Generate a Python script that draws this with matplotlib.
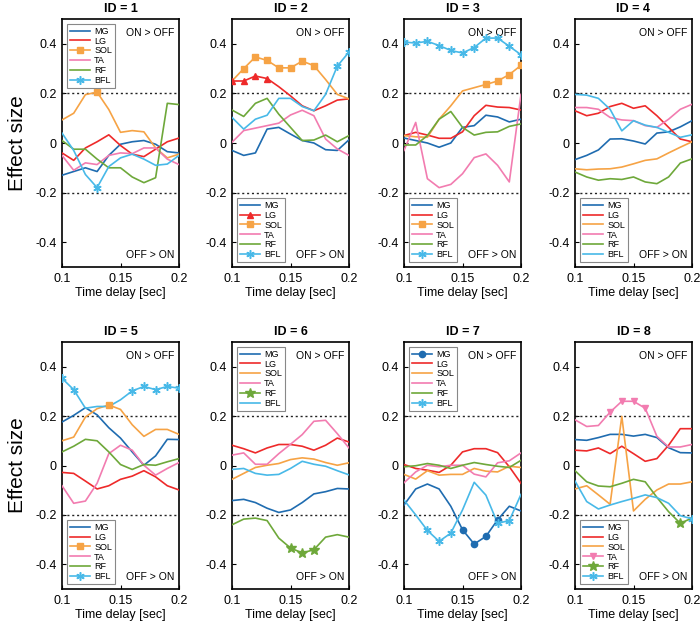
import matplotlib
matplotlib.use("Agg")
import matplotlib.pyplot as plt
from matplotlib.lines import Line2D
import numpy as np

plt.rcParams['font.family'] = ['Liberation Sans', 'DejaVu Sans']

time_delay = [0.10, 0.11, 0.12, 0.13, 0.14, 0.15, 0.16, 0.17, 0.18, 0.19, 0.20]
muscles = ["MG", "LG", "SOL", "TA", "RF", "BFL"]

id1 = {
    "MG":  [-0.13, -0.115, -0.10, -0.115, -0.05, -0.005, 0.005, 0.01, -0.005, -0.035, -0.04],
    "LG":  [-0.04, -0.07, -0.02, 0.005, 0.033, -0.01, -0.045, -0.055, -0.025, 0.005, 0.02],
    "SOL": [0.093, 0.12, 0.195, 0.205, 0.135, 0.043, 0.05, 0.045, -0.02, -0.06, -0.045],
    "TA":  [-0.05, -0.11, -0.08, -0.087, -0.05, -0.04, -0.043, -0.02, -0.02, -0.065, -0.087],
    "RF":  [0.01, -0.025, -0.025, -0.065, -0.10, -0.10, -0.137, -0.16, -0.14, 0.16, 0.155],
    "BFL": [0.04, -0.03, -0.127, -0.18, -0.095, -0.06, -0.045, -0.065, -0.09, -0.085, -0.05],
}
id2 = {
    "MG":  [-0.03, -0.05, -0.04, 0.056, 0.063, 0.036, 0.01, 0.0, -0.027, -0.03, 0.013],
    "LG":  [0.25, 0.25, 0.27, 0.26, 0.227, 0.19, 0.15, 0.13, 0.15, 0.173, 0.178],
    "SOL": [0.25, 0.30, 0.347, 0.333, 0.303, 0.303, 0.33, 0.312, 0.256, 0.196, 0.178],
    "TA":  [0.003, 0.05, 0.06, 0.07, 0.08, 0.113, 0.132, 0.11, 0.016, -0.024, -0.05],
    "RF":  [0.133, 0.107, 0.16, 0.18, 0.116, 0.063, 0.01, 0.012, 0.032, 0.005, 0.03],
    "BFL": [0.103, 0.056, 0.096, 0.112, 0.18, 0.18, 0.147, 0.13, 0.196, 0.31, 0.367],
}
id3 = {
    "MG":  [0.02, 0.01, 0.0, -0.017, 0.0, 0.063, 0.07, 0.112, 0.105, 0.085, 0.096],
    "LG":  [0.03, 0.043, 0.032, 0.019, 0.019, 0.045, 0.11, 0.152, 0.145, 0.143, 0.133],
    "SOL": [0.03, 0.025, 0.023, 0.096, 0.15, 0.21, 0.223, 0.236, 0.25, 0.276, 0.313],
    "TA":  [-0.03, 0.083, -0.144, -0.18, -0.167, -0.124, -0.059, -0.044, -0.09, -0.157, 0.196],
    "RF":  [-0.008, -0.008, 0.03, 0.096, 0.127, 0.063, 0.032, 0.043, 0.045, 0.067, 0.077],
    "BFL": [0.407, 0.403, 0.41, 0.393, 0.373, 0.363, 0.385, 0.423, 0.423, 0.39, 0.356],
}
id4 = {
    "MG":  [-0.067, -0.05, -0.028, 0.016, 0.017, 0.008, -0.004, 0.04, 0.045, 0.065, 0.09],
    "LG":  [0.13, 0.11, 0.12, 0.147, 0.16, 0.14, 0.15, 0.11, 0.063, 0.016, 0.005],
    "SOL": [-0.104, -0.108, -0.105, -0.104, -0.097, -0.084, -0.07, -0.064, -0.04, -0.017, 0.005],
    "TA":  [0.143, 0.143, 0.136, 0.103, 0.093, 0.09, 0.07, 0.063, 0.096, 0.136, 0.156],
    "RF":  [-0.117, -0.137, -0.15, -0.144, -0.147, -0.137, -0.157, -0.164, -0.137, -0.081, -0.064],
    "BFL": [0.196, 0.193, 0.18, 0.136, 0.049, 0.09, 0.072, 0.063, 0.043, 0.023, 0.033],
}
id5 = {
    "MG":  [0.176, 0.203, 0.234, 0.205, 0.153, 0.111, 0.055, 0.001, 0.039, 0.106, 0.105],
    "LG":  [-0.028, -0.032, -0.063, -0.095, -0.082, -0.056, -0.043, -0.021, -0.046, -0.082, -0.099],
    "SOL": [0.10, 0.115, 0.196, 0.23, 0.245, 0.227, 0.165, 0.118, 0.146, 0.146, 0.126],
    "TA":  [-0.082, -0.153, -0.144, -0.072, 0.048, 0.082, 0.062, 0.001, -0.039, -0.012, 0.012],
    "RF":  [0.055, 0.078, 0.106, 0.10, 0.055, 0.004, -0.016, 0.004, 0.001, 0.015, 0.028],
    "BFL": [0.353, 0.307, 0.232, 0.239, 0.239, 0.266, 0.302, 0.32, 0.307, 0.32, 0.313],
}
id6 = {
    "MG":  [-0.142, -0.137, -0.15, -0.173, -0.19, -0.18, -0.15, -0.115, -0.106, -0.093, -0.095],
    "LG":  [0.082, 0.068, 0.051, 0.071, 0.085, 0.085, 0.078, 0.062, 0.082, 0.111, 0.095],
    "SOL": [-0.056, -0.032, -0.008, 0.001, 0.008, 0.024, 0.031, 0.026, 0.012, 0.001, 0.011],
    "TA":  [0.042, 0.051, 0.005, 0.005, 0.048, 0.086, 0.125, 0.179, 0.183, 0.129, 0.071],
    "RF":  [-0.24, -0.217, -0.213, -0.223, -0.294, -0.334, -0.354, -0.341, -0.29, -0.28, -0.29],
    "BFL": [-0.016, -0.012, -0.032, -0.039, -0.036, -0.012, 0.017, 0.005, -0.003, -0.021, -0.038],
}
id7 = {
    "MG":  [-0.16, -0.095, -0.075, -0.095, -0.165, -0.26, -0.318, -0.287, -0.22, -0.165, -0.184],
    "LG":  [0.004, -0.012, -0.019, -0.028, 0.001, 0.055, 0.068, 0.068, 0.052, -0.005, -0.072],
    "SOL": [-0.036, -0.055, -0.021, -0.039, -0.036, -0.036, -0.012, -0.023, -0.026, -0.003, -0.008],
    "TA":  [-0.07, -0.026, 0.001, -0.005, 0.001, 0.001, -0.035, -0.046, 0.011, 0.019, 0.051],
    "RF":  [-0.005, -0.001, 0.008, 0.001, -0.012, 0.001, 0.012, 0.004, -0.003, -0.008, 0.021],
    "BFL": [-0.14, -0.20, -0.263, -0.307, -0.274, -0.18, -0.068, -0.12, -0.234, -0.223, -0.117],
}
id8 = {
    "MG":  [0.105, 0.102, 0.113, 0.126, 0.126, 0.119, 0.126, 0.113, 0.072, 0.052, 0.051],
    "LG":  [0.062, 0.059, 0.071, 0.048, 0.078, 0.048, 0.017, 0.028, 0.082, 0.149, 0.149],
    "SOL": [-0.095, -0.082, -0.119, -0.157, 0.199, -0.184, -0.137, -0.099, -0.075, -0.075, -0.066],
    "TA":  [0.185, 0.158, 0.162, 0.216, 0.26, 0.26, 0.232, 0.118, 0.075, 0.075, 0.085],
    "RF":  [-0.021, -0.066, -0.083, -0.086, -0.072, -0.056, -0.066, -0.129, -0.187, -0.234, -0.213],
    "BFL": [-0.063, -0.146, -0.176, -0.16, -0.146, -0.133, -0.119, -0.13, -0.153, -0.203, -0.216],
}
panels = [id1, id2, id3, id4, id5, id6, id7, id8]
titles = ["ID = 1", "ID = 2", "ID = 3", "ID = 4", "ID = 5", "ID = 6", "ID = 7", "ID = 8"]

# indices of highlighted (significant) points per panel
sig_points = [
    {"SOL": [3], "BFL": [3]},
    {"LG": [0, 1, 2, 3], "SOL": [1, 2, 3, 4, 5, 6, 7], "BFL": [9, 10]},
    {"SOL": [7, 8, 9, 10], "BFL": list(range(11))},
    {},
    {"SOL": [4], "BFL": [0, 1, 6, 7, 8, 9, 10]},
    {"RF": [5, 6, 7]},
    {"MG": [5, 6, 7, 8], "BFL": [2, 3, 4, 8, 9]},
    {"TA": [3, 4, 5, 6], "RF": [9], "BFL": [10]},
]
legend_loc = ["upper left", "lower left", "lower left", "lower left",
              "lower left", "upper left", "upper left", "lower left"]

colors = {"MG": "#1f6cb0", "LG": "#ee2a2a", "SOL": "#f6a345", "TA": "#f27cb0",
          "RF": "#6ea83a", "BFL": "#48b9e8"}
markers = {"MG": "o", "LG": "^", "SOL": "s", "TA": "v", "RF": "*", "BFL": (6, 2, 0)}
msizes = {"MG": 4.5, "LG": 5, "SOL": 4.5, "TA": 5, "RF": 7.5, "BFL": 6}

fig = plt.figure(figsize=(7.0, 6.23), dpi=100)
lefts = [62, 232, 404, 575]
W, H = 700.0, 623.0
rows = [(19, 267), (342, 589)]

for i, data in enumerate(panels):
    r, c = divmod(i, 4)
    top, bot = rows[r]
    ax = fig.add_axes([lefts[c] / W, 1 - bot / H, 117 / W, (bot - top) / H])
    handles = []
    for m in muscles:
        sp = sig_points[i].get(m, [])
        mk = markers[m]
        mew = 1.1 if m == "BFL" else 1.0
        ax.plot(time_delay, data[m], color=colors[m], lw=1.2, zorder=3)
        if sp:
            ax.plot([time_delay[k] for k in sp], [data[m][k] for k in sp],
                    linestyle='none', marker=mk, color=colors[m], ms=msizes[m],
                    mew=mew, zorder=4)
            handles.append(Line2D([], [], color=colors[m], lw=1.2, marker=mk,
                                  ms=msizes[m], mew=mew))
        else:
            handles.append(Line2D([], [], color=colors[m], lw=1.2))
    ax.axhline(0.2, color='#222222', ls=(0, (1.5, 2)), lw=1.0, zorder=2)
    ax.axhline(-0.2, color='#222222', ls=(0, (1.5, 2)), lw=1.0, zorder=2)
    ax.set_xlim(0.1, 0.2)
    ax.set_ylim(-0.5, 0.5)
    ax.set_xticks([0.1, 0.15, 0.2])
    ax.set_xticklabels(["0.1", "0.15", "0.2"])
    ax.set_yticks([-0.4, -0.2, 0, 0.2, 0.4])
    ax.set_yticklabels(["-0.4", "-0.2", "0", "0.2", "0.4"])
    ax.tick_params(direction='in', length=3, labelsize=9, width=0.8, pad=4)
    for s in ax.spines.values():
        s.set_linewidth(1.2)
    ax.set_title(titles[i], fontsize=9, fontweight='bold', pad=5)
    ax.set_xlabel("Time delay [sec]", fontsize=9, labelpad=2)
    if c == 0:
        ax.set_ylabel("Effect size", fontsize=15, labelpad=6)
    ax.text(0.96, 0.965, "ON > OFF", transform=ax.transAxes, ha='right', va='top', fontsize=7.5)
    ax.text(0.96, 0.03, "OFF > ON", transform=ax.transAxes, ha='right', va='bottom', fontsize=7.5)
    leg = ax.legend(handles, muscles, loc=legend_loc[i], fontsize=6.5, handlelength=2.3,
                    handletextpad=0.4, labelspacing=0.1, borderpad=0.35,
                    fancybox=False, framealpha=1, edgecolor='#888888',
                    borderaxespad=0.5, numpoints=1)
    leg.get_frame().set_linewidth(0.8)

fig.savefig("out.png", dpi=100)
